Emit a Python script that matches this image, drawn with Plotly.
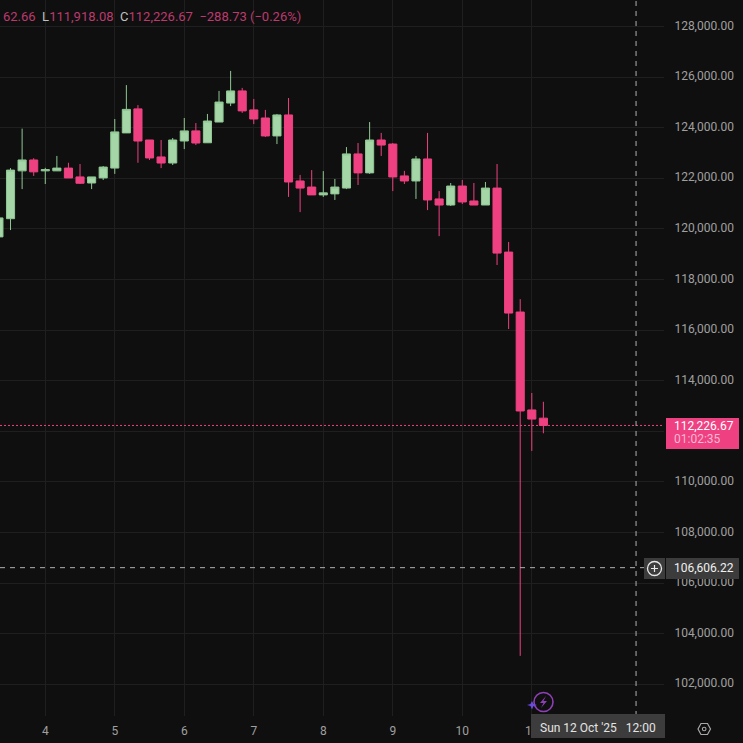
import pandas as pd
import plotly.graph_objects as go

# 4h candles, first one is Oct 3 08:00
start_time = "2025-10-03 08:00"
opens = [119680, 120400, 122290, 122720, 122290, 122290, 122400, 122050, 121810, 122010,
         122400, 123790, 124740, 123510, 122840, 122600, 123470, 123870, 123400, 124220,
         124970, 125450, 124700, 124380, 123670, 124500, 121890, 121650, 121340, 121380,
         121610, 122960, 122210, 123510, 123350, 122090, 121890, 122760, 121180, 120940,
         121690, 121100, 120940, 121610, 119080, 116710, 112840, 112515.40]
highs = [120500, 122400, 123960, 122790, 122410, 122880, 122610, 122560, 122050, 122480,
         124340, 125680, 124890, 123510, 123510, 123590, 124380, 124180, 124540, 125450,
         126240, 125570, 125130, 124700, 124540, 125170, 122130, 122320, 122280, 121970,
         123230, 123390, 124220, 123790, 123390, 122290, 122880, 123790, 121490, 121810,
         121930, 121810, 121850, 122560, 119480, 117220, 113510, 113162.66]
lows = [119600, 119950, 121570, 122090, 121770, 122290, 122010, 121770, 121570, 121930,
        122170, 123790, 122610, 122720, 122400, 122520, 123150, 123310, 123400, 124220,
        124850, 124580, 124140, 123630, 123350, 121260, 120660, 121340, 121260, 121140,
        121570, 121730, 122170, 122880, 121490, 121770, 121180, 120740, 119710, 120900,
        120980, 120940, 120940, 118570, 116040, 103120, 111220, 111918.08]
closes = [120430, 122320, 122720, 122250, 122340, 122400, 122010, 121800, 122050, 122440,
          123830, 124720, 123470, 122800, 122600, 123510, 123870, 123390, 124260, 125010,
          125450, 124660, 124340, 123670, 124500, 121850, 121610, 121340, 121420, 121650,
          122960, 122210, 123510, 123310, 122050, 121890, 122760, 121140, 120940, 121690,
          121060, 120940, 121610, 119040, 116670, 112800, 112480, 112226.67]

day_ticks = ["2025-10-04", "2025-10-05", "2025-10-06", "2025-10-07",
             "2025-10-08", "2025-10-09", "2025-10-10", "2025-10-11"]
day_labels = ["4", "5", "6", "7", "8", "9", "10", "11"]
price_ticks = [102000, 104000, 106000, 108000, 110000, 112000, 114000,
               116000, 118000, 120000, 122000, 124000, 126000, 128000]
last_price = 112226.67
cross_price = 106606.22
cross_time = "2025-10-12 12:00"

BG = "#0f0f0f"
PINK = "#ef4081"
GREEN = "#a5d6a7"
GREEN_EDGE = "#8fc793"
GRID = "#1f1f1f"
LABEL = "#a0a0a0"
W, H = 743, 743
PLOT_R, PLOT_B = 664, 716


# pixel helpers for the chrome around the chart (tags, icons)
def px(x):
    return x / PLOT_R


def py(y):
    return (PLOT_B - y) / PLOT_B


def box(x0, y0, x1, y1, fill):
    return dict(type="rect", xref="paper", yref="paper", x0=px(x0), x1=px(x1), y0=py(y0), y1=py(y1),
                fillcolor=fill, line_width=0, layer="above")


def poly(points, **kw):
    path = "M" + " L".join(f"{px(a):.5f},{py(b):.5f}" for a, b in points) + " Z"
    return dict(type="path", xref="paper", yref="paper", path=path, layer="above", **kw)


def ring(cx, cy, r, color, width=1.3):
    return dict(type="circle", xref="paper", yref="paper", x0=px(cx - r), x1=px(cx + r),
                y0=py(cy + r), y1=py(cy - r), line=dict(color=color, width=width), layer="above")


def label(x, y, text, color, size=12, anchor="left"):
    return dict(xref="paper", yref="paper", x=px(x), y=py(y), text=text, showarrow=False,
                xanchor=anchor, yanchor="middle", xshift=0, align="left", borderpad=0,
                font=dict(family="Roboto", size=size, color=color))


times = pd.date_range(start_time, periods=len(opens), freq="4h")

fig = go.Figure(go.Candlestick(
    x=times, open=opens, high=highs, low=lows, close=closes,
    increasing=dict(fillcolor=GREEN, line=dict(color=GREEN_EDGE, width=1)),
    decreasing=dict(fillcolor=PINK, line=dict(color=PINK, width=1)),
    whiskerwidth=0, showlegend=False,
))

shapes = [
    # last price and crosshair
    dict(type="line", xref="paper", x0=0, x1=1, yref="y", y0=last_price, y1=last_price,
         line=dict(color=PINK, width=1, dash="2px,2px")),
    dict(type="line", xref="paper", x0=0, x1=px(644), yref="y", y0=cross_price, y1=cross_price,
         line=dict(color="#b0b0b0", width=1, dash="5px,5px")),
    dict(type="line", yref="paper", y0=0, y1=1, xref="x", x0=cross_time, x1=cross_time,
         line=dict(color="#b0b0b0", width=1, dash="5px,5px")),
    # tags
    box(666, 418, 739, 449, PINK),
    box(666, 558, 739, 579, "#3c3c3c"),
    box(644, 558, 665, 579, "#3c3c3c"),
    box(531, 714, 665, 738, "#3c3c3c"),
    # plus button
    ring(654.5, 568.5, 7, "#e8e8e8"),
    dict(type="path", xref="paper", yref="paper", layer="above", line=dict(color="#e8e8e8", width=1.2),
         path=f"M{px(651)},{py(568.5)} L{px(658)},{py(568.5)} M{px(654.5)},{py(565)} L{px(654.5)},{py(572)}"),
    # lightning badge
    ring(543.5, 702, 9.5, "#8e3fb5", 1.6),
    poly([(546, 696), (540, 703), (543.5, 703), (541, 708), (547, 701), (543.5, 701)], fillcolor="#8e3fb5", line_width=0),
    poly([(532, 701), (533.5, 704), (537, 705), (533.5, 706), (532, 709.5), (530.5, 706), (527, 705), (530.5, 704)],
         fillcolor="#6a4be0", line_width=0),
    # settings hexagon
    poly([(698, 729), (701, 723.5), (707.5, 723.5), (710.5, 729), (707.5, 734.5), (701, 734.5)],
         line=dict(color="#a8a8a8", width=1.2)),
    ring(704.2, 729, 1.8, "#a8a8a8", 1.1),
]

M = "#bd3a6e"
T = "#c0c0c0"
header = (f'<span style="color:{M}">62.66</span>&nbsp;&nbsp;<span style="color:{T}">L</span>'
          f'<span style="color:{M}">111,918.08</span>&nbsp;&nbsp;<span style="color:{T}">C</span>'
          f'<span style="color:{M}">112,226.67</span>&nbsp;&nbsp;<span style="color:{M}">−288.73 (−0.26%)</span>')

annotations = [
    label(2, 17, header, M, size=13),
    label(673, 426, "112,226.67", "#ffffff"),
    label(673, 439, "01:02:35", "#f9b9d0"),
    label(673, 568, "106,606.22", "#f0f0f0"),
    label(539, 727.5, "Sun 12 Oct '25&nbsp;&nbsp;&nbsp;12:00", "#e4e4e4"),
]

fig.update_layout(
    width=W, height=H, autosize=False,
    margin=dict(l=0, r=W - PLOT_R, t=0, b=H - PLOT_B, pad=0),
    paper_bgcolor=BG, plot_bgcolor=BG,
    boxgap=0.3, boxgroupgap=0, shapes=shapes, annotations=annotations,
    xaxis=dict(range=["2025-10-03 08:22", "2025-10-12 21:39"], rangeslider_visible=False,
               tickmode="array", tickvals=day_ticks, ticktext=day_labels,
               gridcolor=GRID, gridwidth=1, zeroline=False, showline=False,
               ticks="outside", ticklen=4, tickcolor=BG,
               tickfont=dict(family="Roboto", size=12, color=LABEL)),
    yaxis=dict(range=[100743, 129043.5], side="right", tickmode="array", tickvals=price_ticks,
               tickformat=",.2f", gridcolor=GRID, gridwidth=1, zeroline=False, showline=False,
               ticks="outside", ticklen=7, tickcolor=BG, ticklabelshift=-1,
               tickfont=dict(family="Roboto", size=12, color=LABEL)),
)

# page margin would shift the chart by 8px
fig.write_html("out.html", config={"displayModeBar": False},
               post_script="document.body.style.margin='0';")
